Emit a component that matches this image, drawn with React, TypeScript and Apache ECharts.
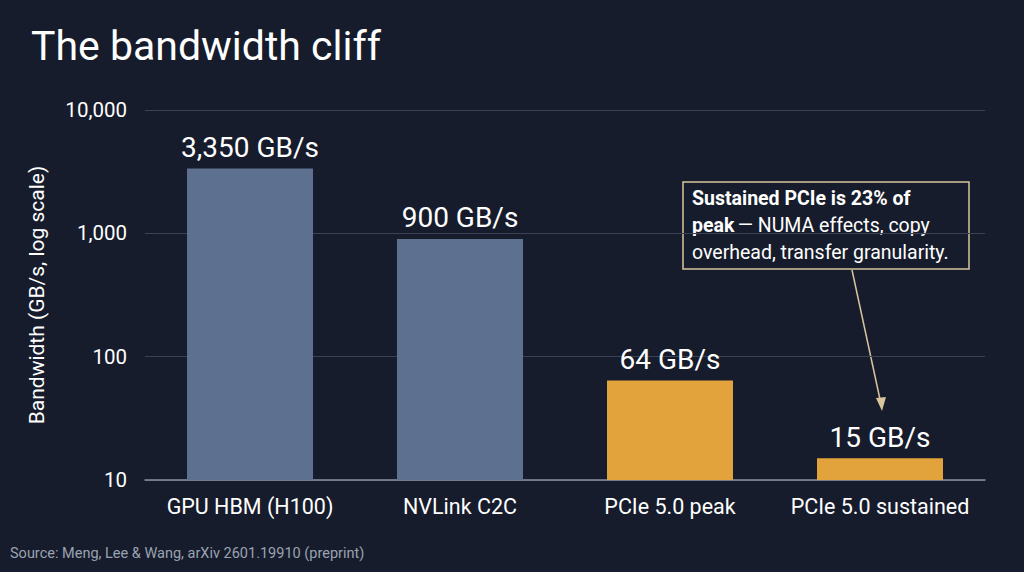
import React, { useEffect, useRef } from "react";
import * as echarts from "echarts";

const categories = ["GPU HBM (H100)", "NVLink C2C", "PCIe 5.0 peak", "PCIe 5.0 sustained"];
const bandwidth = [3350, 900, 64, 15];
const valueLabels = ["3,350 GB/s", "900 GB/s", "64 GB/s", "15 GB/s"];
const barColors = ["#5d7090", "#5d7090", "#e2a33d", "#e2a33d"];
const titleText = "The bandwidth cliff";
const sourceText = "Source: Meng, Lee & Wang, arXiv 2601.19910 (preprint)";
const yAxisName = "Bandwidth (GB/s, log scale)";

const FONT = "Roboto, 'Noto Sans', sans-serif";

export default function App() {
  const ref = useRef<HTMLDivElement>(null);
  useEffect(() => {
    if (!ref.current) return;
    const chart = echarts.init(ref.current, null, { renderer: "svg" });
    chart.setOption({
      animation: false,
      backgroundColor: "#161c2b",
      textStyle: { fontFamily: FONT },
      title: {
        text: titleText,
        left: 26,
        top: 20,
        textStyle: { color: "#ffffff", fontSize: 41, fontWeight: "normal", fontFamily: FONT },
      },
      grid: { left: 145, right: 39, top: 110, bottom: 92 },
      xAxis: {
        type: "category",
        data: categories,
        axisLine: { lineStyle: { color: "#8a93a3", width: 1.5 } },
        axisTick: { show: false },
        axisLabel: { color: "#ffffff", fontSize: 21.5, margin: 15, interval: 0, fontFamily: FONT },
      },
      yAxis: {
        type: "log",
        logBase: 10,
        min: 10,
        max: 10000,
        name: yAxisName,
        nameLocation: "middle",
        nameGap: 98,
        nameTextStyle: { color: "#ffffff", fontSize: 21, fontFamily: FONT },
        axisLine: { show: false },
        axisTick: { show: false },
        axisLabel: {
          color: "#ffffff",
          fontSize: 20.5,
          margin: 18,
          fontFamily: FONT,
          formatter: (v: number) => Math.round(v).toLocaleString("en-US"),
        },
        splitLine: { lineStyle: { color: "#3a4253", width: 1 } },
      },
      series: [
        {
          type: "bar",
          barWidth: "60%",
          data: bandwidth.map((v, i) => ({ value: v, itemStyle: { color: barColors[i] } })),
          label: {
            show: true,
            position: "top",
            distance: 7,
            color: "#ffffff",
            fontSize: 28,
            fontFamily: FONT,
            formatter: (p: any) => valueLabels[p.dataIndex],
          },
        },
      ],
      graphic: [
        {
          type: "text",
          left: 10,
          top: 546,
          style: { text: sourceText, fill: "#9aa3b2", fontSize: 14.5, fontFamily: FONT },
        },
        {
          type: "line",
          shape: { x1: 852, y1: 270, x2: 881, y2: 404 },
          style: { stroke: "#d8c59c", lineWidth: 1.5 },
        },
        {
          type: "polygon",
          shape: { points: [[882, 411], [876, 398], [886, 397]] },
          style: { fill: "#d8c59c" },
        },
        {
          type: "rect",
          shape: { x: 683, y: 182, width: 286, height: 87 },
          style: { fill: "#161c2b", stroke: "#d8c59c", lineWidth: 1.5 },
        },
        {
          type: "text",
          x: 692,
          y: 185,
          style: {
            text: "{b|Sustained PCIe is 23% of}\n{b|peak} {n|— NUMA effects, copy}\n{n|overhead, transfer granularity.}",
            rich: {
              b: { fill: "#ffffff", fontSize: 19.5, fontWeight: "bold", fontFamily: FONT, lineHeight: 27 },
              n: { fill: "#ffffff", fontSize: 19.5, fontFamily: FONT, lineHeight: 27 },
            },
          },
        },
      ],
    });
    return () => chart.dispose();
  }, []);
  return (
    <div
      ref={ref}
      style={{ position: "fixed", left: 0, top: 0, width: 1024, height: 572 }}
    />
  );
}
